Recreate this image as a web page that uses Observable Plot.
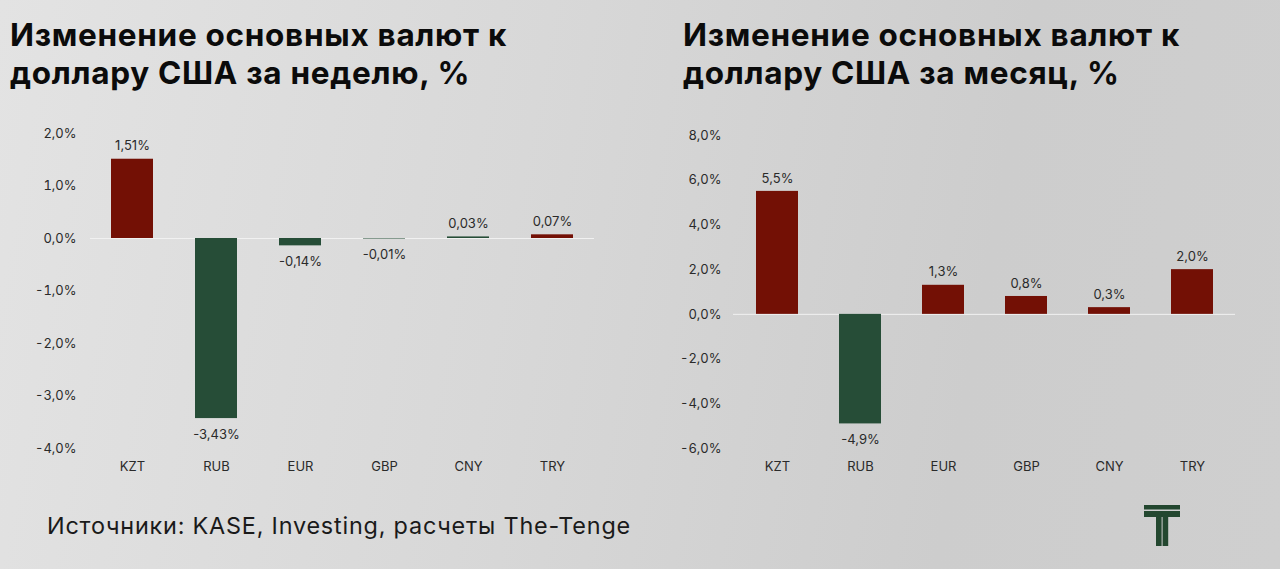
<!DOCTYPE html>
<html>
<head>
<meta charset="utf-8">
<script src="https://cdn.jsdelivr.net/npm/d3@7"></script>
<script src="https://cdn.jsdelivr.net/npm/@observablehq/plot@0.6"></script>
<style>
  html, body { margin: 0; padding: 0; }
  body {
    width: 1280px; height: 569px; position: relative; overflow: hidden;
    background: linear-gradient(100deg, #e3e3e3 0%, #d8d8d8 40%, #cdcdcd 75%, #cfcfcf 100%);
    font-family: Inter, "Open Sans", sans-serif;
  }
  .title {
    position: absolute; top: 16px; font-family: Inter, sans-serif; font-weight: 700;
    font-size: 31.5px; line-height: 38px; color: #0b0b0b; letter-spacing: 0.7px;
  }
  .chart { position: absolute; top: 110px; }
  .caption {
    position: absolute; left: 47px; top: 511px; font-size: 23.4px; line-height: 30px; color: #1a1a1a;
    letter-spacing: 0.8px;
  }
  .logo { position: absolute; left: 1144px; top: 505px; }
</style>
</head>
<body>
<div class="title" style="left:10px">Изменение основных валют к<br>доллару США за неделю, %</div>
<div class="title" style="left:683px">Изменение основных валют к<br>доллару США за месяц, %</div>
<div class="chart" id="week" style="left:0px"></div>
<div class="chart" id="month" style="left:640px"></div>
<div class="caption">Источники: KASE, Investing, расчеты The-Tenge</div>
<svg class="logo" width="37" height="42" viewBox="0 0 37 42">
  <rect x="0" y="0" width="36" height="4.5" fill="#23472f"/>
  <rect x="0" y="6" width="36" height="6" fill="#23472f"/>
  <rect x="12" y="6" width="5.6" height="35" fill="#23472f"/>
  <rect x="18.6" y="6" width="5.6" height="35" fill="#23472f"/>
</svg>
<script>
const categories = ["KZT", "RUB", "EUR", "GBP", "CNY", "TRY"];
const weekValues = [1.51, -3.43, -0.14, -0.01, 0.03, 0.07];
const weekColors = ["#731005", "#264d37", "#264d37", "#264d37", "#264d37", "#731005"];
const weekTicks = [-4, -3, -2, -1, 0, 1, 2];
const monthValues = [5.5, -4.9, 1.3, 0.8, 0.3, 2.0];
const monthColors = ["#731005", "#264d37", "#731005", "#731005", "#731005", "#731005"];
const monthTicks = [-6, -4, -2, 0, 2, 4, 6, 8];

const comma = (v, d) => v.toFixed(d).replace(".", ",");

function chart(values, colors, ticks, decimals, opts) {
  const data = categories.map((c, i) => ({cat: c, value: values[i], color: colors[i]}));
  return Plot.plot({
    width: 640, height: 370,
    marginTop: opts.mt, marginBottom: 32, marginLeft: opts.ml, marginRight: opts.mr,
    style: {background: "transparent", fontFamily: "Inter, sans-serif", fontSize: "13px", color: "#2a2a2a"},
    x: {domain: categories, paddingInner: 0.5, paddingOuter: 0.25, label: null},
    y: {domain: [ticks[0], ticks[ticks.length - 1]], label: null},
    marks: [
      Plot.ruleY([0], {stroke: "#f1f1f1", strokeWidth: 1}),
      Plot.barY(data, {x: "cat", y: "value", fill: "color"}),
      Plot.text(data.filter(d => d.value > 0), {
        x: "cat", y: "value", text: d => comma(d.value, decimals) + "%", dy: -13, fontSize: 13, fill: "#2a2a2a"
      }),
      Plot.text(data.filter(d => d.value < 0), {
        x: "cat", y: "value", text: d => comma(d.value, decimals) + "%", dy: 16, fontSize: 13, fill: "#2a2a2a"
      }),
      Plot.axisX({tickSize: 0, tickPadding: 13, fontSize: 13}),
      Plot.axisY({ticks: ticks, tickSize: 0, tickPadding: opts.tp, fontSize: 13, tickFormat: d => comma(d, 1) + "%"})
    ]
  });
}

document.getElementById("week").append(chart(weekValues, weekColors, weekTicks, 2, {mt: 23, ml: 90, mr: 46, tp: 14}));
document.getElementById("month").append(chart(monthValues, monthColors, monthTicks, 1, {mt: 25, ml: 93, mr: 45, tp: 12}));
</script>
</body>
</html>
